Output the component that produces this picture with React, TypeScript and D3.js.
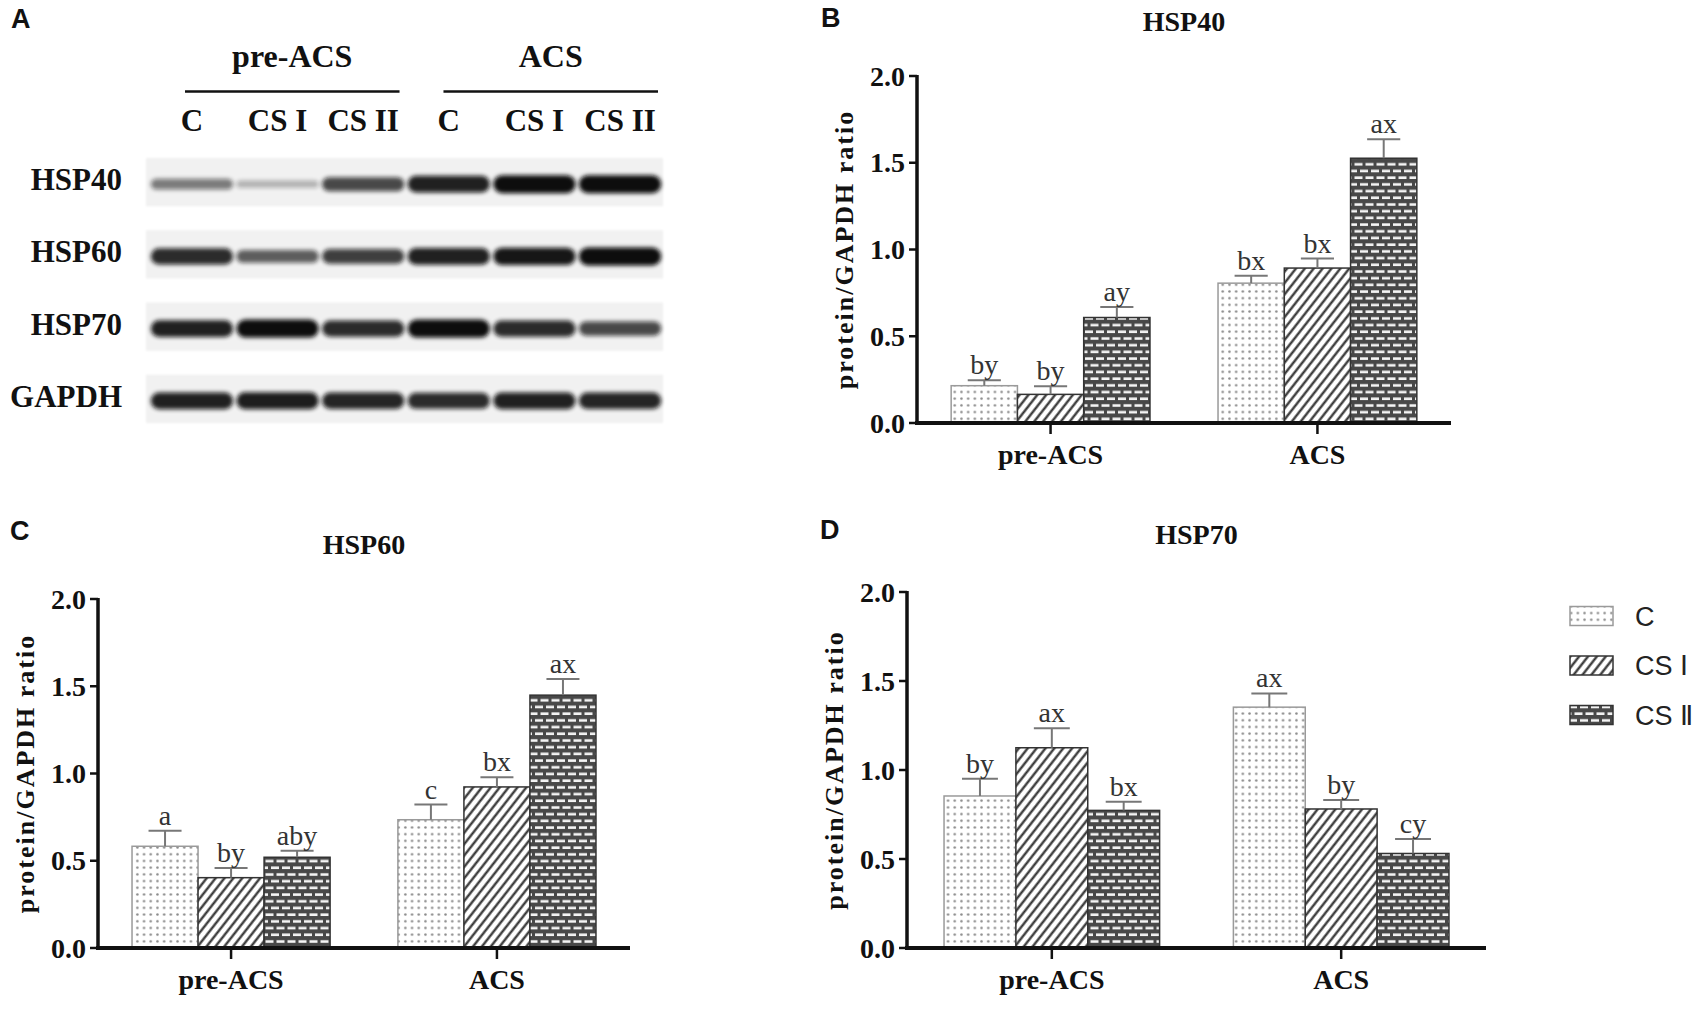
import React from 'react';
import * as d3 from 'd3';

// categories
const groups = ['pre-ACS', 'ACS'];
const treatments = ['C', 'CS I', 'CS II'];
const legendLabels = ['C', 'CS Ⅰ', 'CS Ⅱ'];
const yTicks = [0, 0.5, 1.0, 1.5, 2.0];

// HSP40 (panel B): means, SEM, letters
const hsp40Pre = [0.215, 0.165, 0.608];
const hsp40PreErr = [0.031, 0.047, 0.06];
const hsp40Acs = [0.806, 0.893, 1.526];
const hsp40AcsErr = [0.042, 0.055, 0.109];
const hsp40PreLetters = ['by', 'by', 'ay'];
const hsp40AcsLetters = ['bx', 'bx', 'ax'];

// HSP60 (panel C)
const hsp60Pre = [0.583, 0.403, 0.52];
const hsp60PreErr = [0.089, 0.055, 0.037];
const hsp60Acs = [0.735, 0.923, 1.449];
const hsp60AcsErr = [0.087, 0.055, 0.093];
const hsp60PreLetters = ['a', 'by', 'aby'];
const hsp60AcsLetters = ['c', 'bx', 'ax'];

// HSP70 (panel D)
const hsp70Pre = [0.854, 1.125, 0.773];
const hsp70PreErr = [0.097, 0.11, 0.048];
const hsp70Acs = [1.353, 0.781, 0.531];
const hsp70AcsErr = [0.077, 0.05, 0.082];
const hsp70PreLetters = ['by', 'ax', 'bx'];
const hsp70AcsLetters = ['ax', 'by', 'cy'];

// western blot (panel A): relative band density per lane
const blotRows = ['HSP40', 'HSP60', 'HSP70', 'GAPDH'];
const blotLanes = ['C', 'CS I', 'CS II', 'C', 'CS I', 'CS II'];
const hsp40Bands = [0.45, 0.18, 0.7, 0.9, 1.0, 1.0];
const hsp60Bands = [0.85, 0.6, 0.75, 0.9, 0.95, 1.0];
const hsp70Bands = [0.9, 1.0, 0.85, 1.0, 0.85, 0.7];
const gapdhBands = [0.9, 0.92, 0.88, 0.85, 0.9, 0.88];

const serif = '"Liberation Serif", "Times New Roman", serif';
const sans = '"Liberation Sans", Arial, sans-serif';
const patternIds = ['patDots', 'patHatch', 'patBrick'];
const barStrokes = ['#9a9a9a', '#333', '#333'];

interface PanelProps {
    tag: string;
    title: string;
    pre: number[];
    preErr: number[];
    acs: number[];
    acsErr: number[];
    preLetters: string[];
    acsLetters: string[];
    left: number;
    right: number;
    top: number;
    bottom: number;
    tagX: number;
    tagY: number;
    titleY: number;
}

const BarPanel: React.FC<PanelProps> = (p) => {
    const x0 = d3.scaleBand<string>()
        .domain(groups)
        .range([p.left, p.right])
        .paddingInner(0.255)
        .paddingOuter(0.128);
    const x1 = d3.scaleBand<string>()
        .domain(treatments)
        .range([0, x0.bandwidth()]);
    const y = d3.scaleLinear().domain([0, 2]).range([p.bottom, p.top]);
    const fmt = d3.format('.1f');
    const rows = [
        { group: 'pre-ACS', means: p.pre, errs: p.preErr, letters: p.preLetters },
        { group: 'ACS', means: p.acs, errs: p.acsErr, letters: p.acsLetters },
    ];
    const bw = x1.bandwidth();
    const midY = (p.top + p.bottom) / 2;

    return (
        <g>
            <text x={p.tagX} y={p.tagY} fontFamily={sans} fontWeight="bold" fontSize={27} fill="#111">{p.tag}</text>
            <text x={(p.left + p.right) / 2} y={p.titleY} textAnchor="middle" fontFamily={serif}
                  fontWeight="bold" fontSize={28} fill="#111">{p.title}</text>

            {rows.map(r => r.means.map((m, i) => {
                const bx = (x0(r.group) ?? 0) + (x1(treatments[i]) ?? 0);
                const cx = bx + bw / 2;
                const hi = m + r.errs[i];
                return (
                    <g key={r.group + i}>
                        <rect x={bx} y={y(m)} width={bw} height={p.bottom - y(m)}
                              fill={`url(#${patternIds[i]})`} stroke={barStrokes[i]} strokeWidth={1.5} />
                        <line x1={cx} x2={cx} y1={y(m)} y2={y(hi)} stroke="#777" strokeWidth={2} />
                        <line x1={cx - bw * 0.25} x2={cx + bw * 0.25} y1={y(hi)} y2={y(hi)} stroke="#777" strokeWidth={2} />
                        <text x={cx} y={y(hi) - 6} textAnchor="middle" fontFamily={serif} fontSize={28} fill="#333">
                            {r.letters[i]}
                        </text>
                    </g>
                );
            }))}

            {/* y axis */}
            <line x1={p.left} x2={p.left} y1={p.top - 1} y2={p.bottom} stroke="#111" strokeWidth={3.5} />
            {yTicks.map(t => (
                <g key={t}>
                    <line x1={p.left - 8} x2={p.left} y1={y(t)} y2={y(t)} stroke="#111" strokeWidth={2.5} />
                    <text x={p.left - 12} y={y(t) + 9.5} textAnchor="end" fontFamily={serif} fontWeight="bold"
                          fontSize={28} fill="#111">{fmt(t)}</text>
                </g>
            ))}
            <text transform={`translate(${p.left - 64},${midY}) rotate(-90)`} textAnchor="middle"
                  fontFamily={serif} fontWeight="bold" fontSize={26} letterSpacing={2} fill="#111">
                protein/GAPDH ratio
            </text>

            {/* x axis */}
            <line x1={p.left - 2} x2={p.right} y1={p.bottom} y2={p.bottom} stroke="#111" strokeWidth={4} />
            {groups.map(g => {
                const gx = (x0(g) ?? 0) + x0.bandwidth() / 2;
                return (
                    <g key={g}>
                        <line x1={gx} x2={gx} y1={p.bottom} y2={p.bottom + 11} stroke="#111" strokeWidth={2.5} />
                        <text x={gx} y={p.bottom + 41} textAnchor="middle" fontFamily={serif} fontWeight="bold"
                              fontSize={28} fill="#111">{g}</text>
                    </g>
                );
            })}
        </g>
    );
};

const Blot: React.FC = () => {
    const laneX = d3.scaleBand<number>()
        .domain(d3.range(blotLanes.length))
        .range([150, 662])
        .paddingInner(0.04)
        .paddingOuter(0.01);
    const groupX = d3.scaleBand<string>()
        .domain(groups)
        .range([185, 658])
        .paddingInner(0.17);
    const rowY = d3.scaleBand<string>()
        .domain(blotRows)
        .range([158, 423])
        .paddingInner(0.33);
    const thick = d3.scaleLinear().domain([0, 1]).range([5, 18]);
    const ink = d3.scaleLinear().domain([0, 1]).range([0.12, 1]);
    const bands = [hsp40Bands, hsp60Bands, hsp70Bands, gapdhBands];

    return (
        <g>
            <text x={11} y={28} fontFamily={sans} fontWeight="bold" fontSize={27} fill="#111">A</text>
            {groups.map(g => {
                const gx = groupX(g) ?? 0;
                return (
                    <g key={g}>
                        <text x={gx + groupX.bandwidth() / 2} y={67} textAnchor="middle" fontFamily={serif}
                              fontWeight="bold" fontSize={32} fill="#111">{g}</text>
                        <line x1={gx} x2={gx + groupX.bandwidth()} y1={91.5} y2={91.5} stroke="#111" strokeWidth={2.5} />
                    </g>
                );
            })}
            {blotLanes.map((l, i) => (
                <text key={i} x={(laneX(i) ?? 0) + laneX.bandwidth() / 2} y={131} textAnchor="middle"
                      fontFamily={serif} fontWeight="bold" fontSize={31} fill="#111">{l}</text>
            ))}
            {blotRows.map((r, ri) => {
                const ry = rowY(r) ?? 0;
                const cy = ry + rowY.bandwidth() / 2 + 2;
                return (
                    <g key={r}>
                        <text x={122} y={ry + rowY.bandwidth() / 2 + 8} textAnchor="end" fontFamily={serif}
                              fontWeight="bold" fontSize={31} fill="#111">{r}</text>
                        <rect x={146} y={ry} width={517} height={rowY.bandwidth()} fill="#f1f1f1" filter="url(#soft)" />
                        {bands[ri].map((v, li) => {
                            const h = thick(v);
                            return (
                                <rect key={li} x={laneX(li)} y={cy - h / 2} width={laneX.bandwidth()} height={h}
                                      rx={h / 2} fill="#0d0d0d" opacity={ink(v)} filter="url(#blur)" />
                            );
                        })}
                    </g>
                );
            })}
        </g>
    );
};

const Legend: React.FC = () => {
    const ly = d3.scalePoint<string>().domain(legendLabels).range([616, 715]);
    return (
        <g>
            {legendLabels.map((l, i) => {
                const cy = ly(l) ?? 0;
                return (
                    <g key={l}>
                        <rect x={1570} y={cy - 9.5} width={43} height={19} fill={`url(#${patternIds[i]})`}
                              stroke={barStrokes[i]} strokeWidth={1.5} />
                        <text x={1635} y={cy + 9.5} fontFamily={sans} fontSize={27} fill="#222">{l}</text>
                    </g>
                );
            })}
        </g>
    );
};

const App: React.FC = () => {
    return (
        <svg width={1700} height={1021} style={{ position: 'absolute', left: 0, top: 0, background: '#fff' }}>
            <defs>
                <pattern id="patDots" patternUnits="userSpaceOnUse" width={6.7} height={6.7}>
                    <rect width={6.7} height={6.7} fill="#fff" />
                    <circle cx={3.35} cy={3.35} r={1.25} fill="#8a8a8a" />
                </pattern>
                <pattern id="patHatch" patternUnits="userSpaceOnUse" width={7} height={7} patternTransform="rotate(38)">
                    <rect width={7} height={7} fill="#fff" />
                    <line x1={3.5} y1={-1} x2={3.5} y2={8} stroke="#2a2a2a" strokeWidth={2.2} />
                </pattern>
                <pattern id="patBrick" patternUnits="userSpaceOnUse" width={11} height={13.4}>
                    <rect width={11} height={13.4} fill="#484848" />
                    <rect x={1.5} y={2.2} width={8} height={2.6} fill="#f4f4f4" />
                    <rect x={-4} y={8.9} width={8} height={2.6} fill="#f4f4f4" />
                    <rect x={7} y={8.9} width={8} height={2.6} fill="#f4f4f4" />
                </pattern>
                <filter id="blur" x="-20%" y="-80%" width="140%" height="260%">
                    <feGaussianBlur stdDeviation={2.2} />
                </filter>
                <filter id="soft">
                    <feGaussianBlur stdDeviation={1.2} />
                </filter>
            </defs>

            <Blot />

            <BarPanel tag="B" title="HSP40" pre={hsp40Pre} preErr={hsp40PreErr} acs={hsp40Acs} acsErr={hsp40AcsErr}
                      preLetters={hsp40PreLetters} acsLetters={hsp40AcsLetters}
                      left={917} right={1451} top={76} bottom={423} tagX={821} tagY={27} titleY={31} />
            <BarPanel tag="C" title="HSP60" pre={hsp60Pre} preErr={hsp60PreErr} acs={hsp60Acs} acsErr={hsp60AcsErr}
                      preLetters={hsp60PreLetters} acsLetters={hsp60AcsLetters}
                      left={98} right={630} top={599} bottom={948} tagX={10} tagY={540} titleY={554} />
            <BarPanel tag="D" title="HSP70" pre={hsp70Pre} preErr={hsp70PreErr} acs={hsp70Acs} acsErr={hsp70AcsErr}
                      preLetters={hsp70PreLetters} acsLetters={hsp70AcsLetters}
                      left={907} right={1486} top={592} bottom={948} tagX={820} tagY={539} titleY={544} />

            <Legend />
        </svg>
    );
};

export default App;
